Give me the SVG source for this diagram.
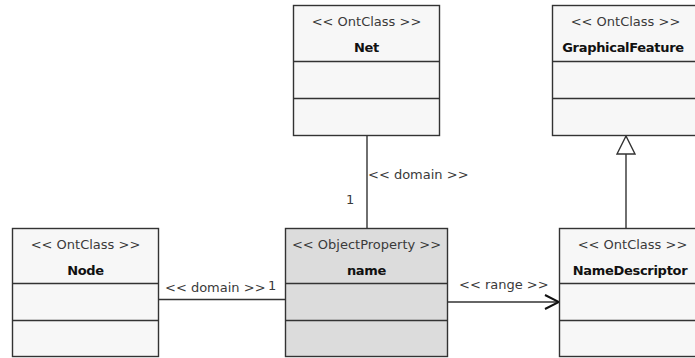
<svg xmlns="http://www.w3.org/2000/svg" width="695" height="358" viewBox="0 0 695 358">
  <defs>
    <style>
      .box { fill: #f7f7f7; stroke: #333333; stroke-width: 1.4; }
      .prop { fill: #dcdcdc; stroke: #333333; stroke-width: 1.4; }
      .div { stroke: #333333; stroke-width: 1.4; }
      .st { font-family: "DejaVu Sans", Verdana, sans-serif; font-size: 13px; fill: #3a3a3a; text-anchor: middle; }
      .nm { font-family: "DejaVu Sans", Verdana, sans-serif; font-size: 13px; font-weight: bold; fill: #111111; text-anchor: middle; letter-spacing: -0.3px; }
      .lbl { font-family: "DejaVu Sans", Verdana, sans-serif; font-size: 13px; fill: #3a3a3a; }
      .edge { fill: none; stroke: #333333; stroke-width: 1.4; }
    </style>
    <!-- open arrowhead for navigable associations -->
    <marker id="open" viewBox="0 0 16 16" refX="15" refY="8" markerWidth="16" markerHeight="16" markerUnits="userSpaceOnUse" orient="auto">
      <path d="M1,1 L15,8 L1,15" fill="none" stroke="#111111" stroke-width="2"/>
    </marker>
    <!-- hollow triangle for generalization -->
    <marker id="tri" viewBox="0 0 20 20" refX="19" refY="10" markerWidth="20" markerHeight="20" markerUnits="userSpaceOnUse" orient="auto">
      <path d="M19,10 L1,1 L1,19 Z" fill="#ffffff" stroke="#333333" stroke-width="1.4"/>
    </marker>
  </defs>

  <g id="connectors">
    <!-- Net domain -->
    <line class="edge" x1="367" y1="135" x2="367" y2="228"/>
    <text class="lbl" x="368" y="179">&lt;&lt; domain &gt;&gt;</text>
    <text class="lbl" x="346" y="204">1</text>
    <!-- Node domain -->
    <line class="edge" x1="159" y1="299.5" x2="285" y2="299.5"/>
    <text class="lbl" x="165" y="292">&lt;&lt; domain &gt;&gt;</text>
    <text class="lbl" x="268" y="290">1</text>
    <!-- range -->
    <line class="edge" x1="448" y1="302" x2="559" y2="302" marker-end="url(#open)"/>
    <text class="lbl" x="459" y="289">&lt;&lt; range &gt;&gt;</text>
  </g>

  <g id="Net">
    <rect class="box" x="293.5" y="5.5" width="146" height="130"/>
    <line class="div" x1="293.5" y1="61.5" x2="439.5" y2="61.5"/>
    <line class="div" x1="293.5" y1="98.5" x2="439.5" y2="98.5"/>
    <text class="st" x="366.5" y="26">&lt;&lt; OntClass &gt;&gt;</text>
    <text class="nm" x="366.5" y="52">Net</text>
  </g>

  <g id="GraphicalFeature">
    <rect class="box" x="552.5" y="5.5" width="146" height="130"/>
    <line class="div" x1="552.5" y1="61.5" x2="698.5" y2="61.5"/>
    <line class="div" x1="552.5" y1="98.5" x2="698.5" y2="98.5"/>
    <text class="st" x="625.5" y="26">&lt;&lt; OntClass &gt;&gt;</text>
    <text class="nm" x="623" y="52">GraphicalFeature</text>
  </g>

  <g id="Node">
    <rect class="box" x="12.5" y="228.5" width="146" height="128"/>
    <line class="div" x1="12.5" y1="283.5" x2="158.5" y2="283.5"/>
    <line class="div" x1="12.5" y1="320.5" x2="158.5" y2="320.5"/>
    <text class="st" x="85.5" y="249">&lt;&lt; OntClass &gt;&gt;</text>
    <text class="nm" x="85.5" y="275">Node</text>
  </g>

  <g id="name">
    <rect class="prop" x="285.5" y="228.5" width="162" height="128"/>
    <line class="div" x1="285.5" y1="283.5" x2="447.5" y2="283.5"/>
    <line class="div" x1="285.5" y1="320.5" x2="447.5" y2="320.5"/>
    <text class="st" x="366.5" y="249">&lt;&lt; ObjectProperty &gt;&gt;</text>
    <text class="nm" x="366.5" y="275">name</text>
  </g>

  <g id="NameDescriptor">
    <rect class="box" x="559.5" y="228.5" width="146" height="128"/>
    <line class="div" x1="559.5" y1="283.5" x2="705.5" y2="283.5"/>
    <line class="div" x1="559.5" y1="320.5" x2="705.5" y2="320.5"/>
    <text class="st" x="632.5" y="249">&lt;&lt; OntClass &gt;&gt;</text>
    <text class="nm" x="630" y="275">NameDescriptor</text>
  </g>

  <!-- generalization drawn last so its triangle sits on the superclass edge -->
  <g id="generalization">
    <line class="edge" x1="626" y1="228" x2="626" y2="136" marker-end="url(#tri)"/>
  </g>
</svg>
